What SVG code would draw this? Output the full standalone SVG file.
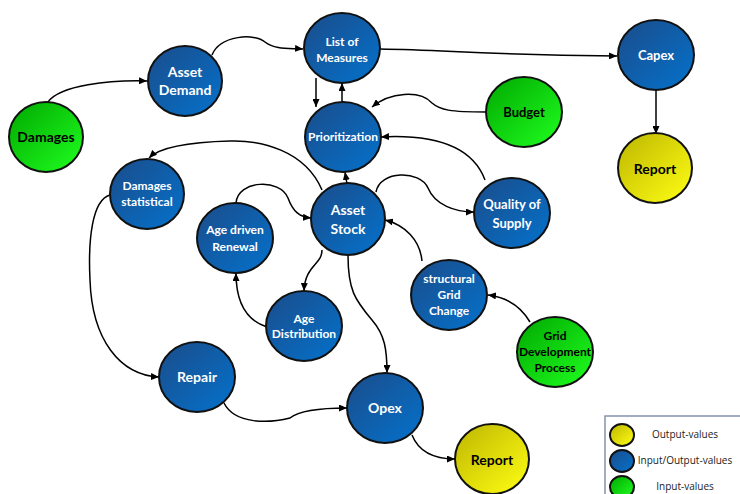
<svg xmlns="http://www.w3.org/2000/svg" width="740" height="494" viewBox="0 0 740 494">
<defs>
<linearGradient id="gBlue" x1="0" y1="0" x2="1" y2="1"><stop offset="0" stop-color="#1b4c8a"/><stop offset="1" stop-color="#0472cc"/></linearGradient>
<linearGradient id="gGreen" x1="0" y1="0" x2="1" y2="1"><stop offset="0" stop-color="#00a800"/><stop offset="1" stop-color="#20ff20"/></linearGradient>
<linearGradient id="gYellow" x1="0" y1="0" x2="1" y2="1"><stop offset="0" stop-color="#bdb600"/><stop offset="1" stop-color="#ffff14"/></linearGradient>
<marker id="arr" markerUnits="userSpaceOnUse" markerWidth="9" markerHeight="7" refX="8" refY="3.5" orient="auto"><path d="M0,0 L8,3.5 L0,7 z" fill="#000"/></marker>
<style>
.n{stroke:#111;stroke-width:2}
.b{fill:url(#gBlue)}
.g{fill:url(#gGreen)}
.y{fill:url(#gYellow)}
.t{font-family:Lato,"Liberation Sans",sans-serif;font-weight:bold;text-anchor:middle;fill:#fff}
.k{fill:#000}
.c{fill:none;stroke:#000;stroke-width:1.5;marker-end:url(#arr)}
.lg{font-family:"Open Sans","Liberation Sans",sans-serif;font-size:10px;fill:#222;text-anchor:middle}
</style>
</defs>
<g id="connectors">
<path class="c" d="M48,102 C60,85 110,80 147,81"/>
<path class="c" d="M212,55 C220,35 255,33 265,42 C275,50 290,48 303,49"/>
<path class="c" d="M380,49 C450,50 480,55 617,56"/>
<path class="c" d="M316,78 L316,107"/>
<path class="c" d="M342,102 L342,83"/>
<path class="c" d="M486,112 C450,112 440,110 432,103 C420,90 390,92 372,107"/>
<path class="c" d="M485,180 C470,140 420,135 381,137"/>
<path class="c" d="M376,192 C380,170 420,170 428,188 C435,205 455,212 474,212"/>
<path class="c" d="M347,184 L345,172"/>
<path class="c" d="M322,190 C305,150 260,140 230,141 C190,142 160,147 149,158"/>
<path class="c" d="M236,203 C238,180 280,178 288,198 C293,212 300,217 311,218"/>
<path class="c" d="M322,250 C322,265 305,265 304,291"/>
<path class="c" d="M267,327 C245,320 236,300 236,273"/>
<path class="c" d="M348,255 C348,290 355,300 372,320 C385,335 387,350 387,373"/>
<path class="c" d="M422,261 C420,240 405,225 385,220"/>
<path class="c" d="M530,322 C520,305 505,297 488,295"/>
<path class="c" d="M110,195 C92,200 88,240 90,280 C92,340 120,375 159,377"/>
<path class="c" d="M224,403 C235,425 270,423 290,418 C300,410 320,408 347,408"/>
<path class="c" d="M412,435 C420,455 440,459 455,459"/>
<path class="c" d="M656,90 L656,134"/>
</g>
<g id="damages"><ellipse class="n g" cx="46" cy="137" rx="37" ry="35"/><text class="t k" x="46" y="142" font-size="14">Damages</text></g>
<g id="asset-demand"><ellipse class="n b" cx="185" cy="81" rx="37" ry="35"/><text class="t" x="185" y="77" font-size="14">Asset</text><text class="t" x="185" y="95" font-size="14">Demand</text></g>
<g id="list-of-measures"><ellipse class="n b" cx="342" cy="48" rx="38" ry="35"/><text class="t" x="342" y="46" font-size="12">List of</text><text class="t" x="342" y="62" font-size="12">Measures</text></g>
<g id="prioritization"><ellipse class="n b" cx="343" cy="137" rx="38" ry="35"/><text class="t" x="343" y="141" font-size="12">Prioritization</text></g>
<g id="capex"><ellipse class="n b" cx="656" cy="55" rx="38" ry="35"/><text class="t" x="656" y="60" font-size="13">Capex</text></g>
<g id="budget"><ellipse class="n g" cx="524" cy="112" rx="38" ry="35"/><text class="t k" x="524" y="117" font-size="13">Budget</text></g>
<g id="report-capex"><ellipse class="n y" cx="655" cy="168" rx="37" ry="35"/><text class="t k" x="655" y="174" font-size="14">Report</text></g>
<g id="quality-of-supply"><ellipse class="n b" cx="512" cy="213" rx="38" ry="35"/><text class="t" x="512" y="209" font-size="13">Quality of</text><text class="t" x="512" y="228" font-size="13">Supply</text></g>
<g id="damages-statistical"><ellipse class="n b" cx="147" cy="194" rx="37" ry="35"/><text class="t" x="147" y="190" font-size="12">Damages</text><text class="t" x="147" y="206" font-size="12">statistical</text></g>
<g id="age-driven-renewal"><ellipse class="n b" cx="235" cy="238" rx="38" ry="35"/><text class="t" x="235" y="234" font-size="12">Age driven</text><text class="t" x="235" y="251" font-size="12">Renewal</text></g>
<g id="asset-stock"><ellipse class="n b" cx="348" cy="219" rx="37" ry="36"/><text class="t" x="348" y="215" font-size="14">Asset</text><text class="t" x="348" y="234" font-size="14">Stock</text></g>
<g id="age-distribution"><ellipse class="n b" cx="304" cy="326" rx="38" ry="35"/><text class="t" x="304" y="323" font-size="12">Age</text><text class="t" x="304" y="338" font-size="12">Distribution</text></g>
<g id="structural-grid-change"><ellipse class="n b" cx="449" cy="295" rx="38" ry="35"/><text class="t" x="449" y="283" font-size="12">structural</text><text class="t" x="449" y="299" font-size="12">Grid</text><text class="t" x="449" y="315" font-size="12">Change</text></g>
<g id="grid-development-process"><ellipse class="n g" cx="555" cy="352" rx="38" ry="35"/><text class="t k" x="555" y="340" font-size="12">Grid</text><text class="t k" x="555" y="356" font-size="12">Development</text><text class="t k" x="555" y="372" font-size="12">Process</text></g>
<g id="repair"><ellipse class="n b" cx="197" cy="377" rx="38" ry="35"/><text class="t" x="197" y="382" font-size="14">Repair</text></g>
<g id="opex"><ellipse class="n b" cx="385" cy="408" rx="38" ry="35"/><text class="t" x="385" y="413" font-size="14">Opex</text></g>
<g id="report-opex"><ellipse class="n y" cx="492" cy="459" rx="37" ry="35"/><text class="t k" x="492" y="465" font-size="14">Report</text></g>
<g id="legend">
<rect x="605" y="416" width="140" height="90" fill="#fff" stroke="#8494ac" stroke-width="1.5"/>
<ellipse class="n y" cx="622" cy="435" rx="12" ry="11"/>
<ellipse class="n b" cx="622" cy="461" rx="12" ry="11"/>
<ellipse class="n g" cx="622" cy="487" rx="12" ry="11"/>
<text class="lg" x="685" y="438">Output-values</text>
<text class="lg" x="685" y="464">Input/Output-values</text>
<text class="lg" x="685" y="490">Input-values</text>
</g>
</svg>
